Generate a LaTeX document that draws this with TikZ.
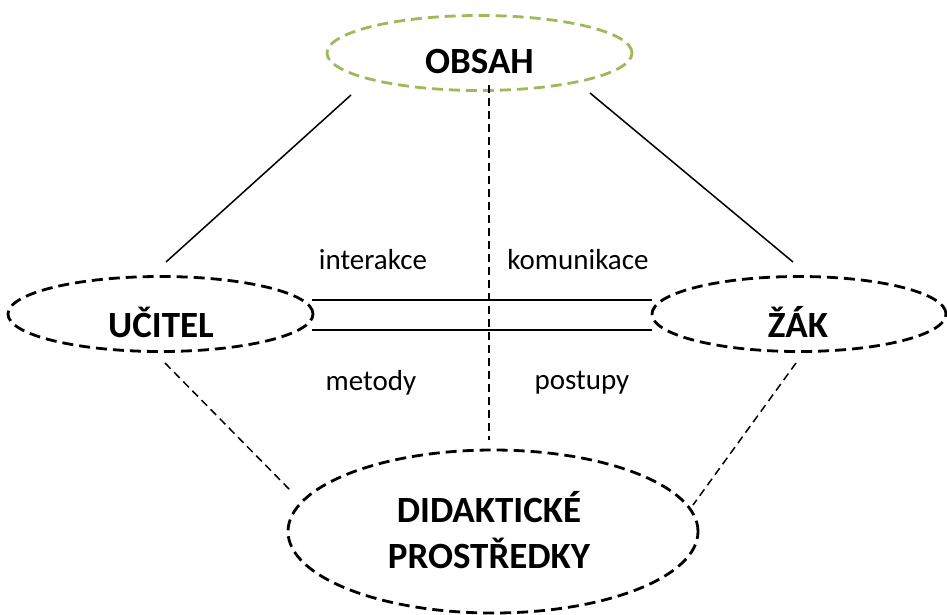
\documentclass[tikz,border=0pt]{standalone}
\usepackage{fontspec}
\setmainfont{Carlito}
\usetikzlibrary{shapes.geometric}
\definecolor{olive}{RGB}{155,187,89}
\tikzset{
  ovalbox/.style={ellipse, draw=black, line width=2.8pt, dash pattern=on 11pt off 6pt,
    inner sep=0pt},
  polelabel/.style={font=\fontsize{37}{46}\selectfont\bfseries, align=center, inner sep=0pt},
  solidlink/.style={line width=1.5pt},
  dashlink/.style={line width=1.5pt, dash pattern=on 8pt off 5pt},
  lbl/.style={font=\fontsize{29}{35}\selectfont, inner sep=0pt}
}
\begin{document}
\begin{tikzpicture}[x=1pt, y=-1pt]
\useasboundingbox (0,0) rectangle (947,614);
% the four poles of the didactic relationship
\node[ovalbox, draw=olive, minimum width=305pt, minimum height=75pt] (obsah) at (479.5,53) {};
\node[polelabel] (obsahtxt) at (479.5,61) {OBSAH};
\node[ovalbox, minimum width=305pt, minimum height=75pt] (ucitel) at (160.5,314) {};
\node[polelabel] (ucteltxt) at (161,322) {UČITEL};
\node[ovalbox, minimum width=294pt, minimum height=75pt] (zak) at (799,314) {};
\node[polelabel] (zaktxt) at (798,322) {ŽÁK};
\node[ovalbox, minimum width=410pt, minimum height=163pt] (prostredky) at (493,531.5) {};
\node[polelabel] (prostxt) at (489,530) {DIDAKTICKÉ\\PROSTŘEDKY};
% connector ends
\coordinate (o1) at (351,95);
\coordinate (u1) at (166,262);
\coordinate (o2) at (590,93);
\coordinate (z1) at (793,262);
\coordinate (ov) at (489,85);
\coordinate (pv) at (489,440);
\coordinate (u2) at (165,363);
\coordinate (p1) at (290,490);
\coordinate (z2) at (796,363);
\coordinate (p2) at (693,505);
\coordinate (ut) at (312,300);
\coordinate (zt) at (652,300);
\coordinate (ub) at (312,330);
\coordinate (zb) at (652,330);
% connectors
\draw[solidlink] (o1) -- (u1);
\draw[solidlink] (o2) -- (z1);
\draw[dashlink] (ov) -- (pv);
\draw[dashlink] (u2) -- (p1);
\draw[dashlink] (z2) -- (p2);
\draw[solidlink] (ut) -- (zt);
\draw[solidlink] (ub) -- (zb);
% labels
\node[lbl] (l1) at (373,260) {interakce};
\node[lbl] (l2) at (578,260) {komunikace};
\node[lbl] (l3) at (371,383) {metody};
\node[lbl] (l4) at (582,383) {postupy};
\end{tikzpicture}
\end{document}
